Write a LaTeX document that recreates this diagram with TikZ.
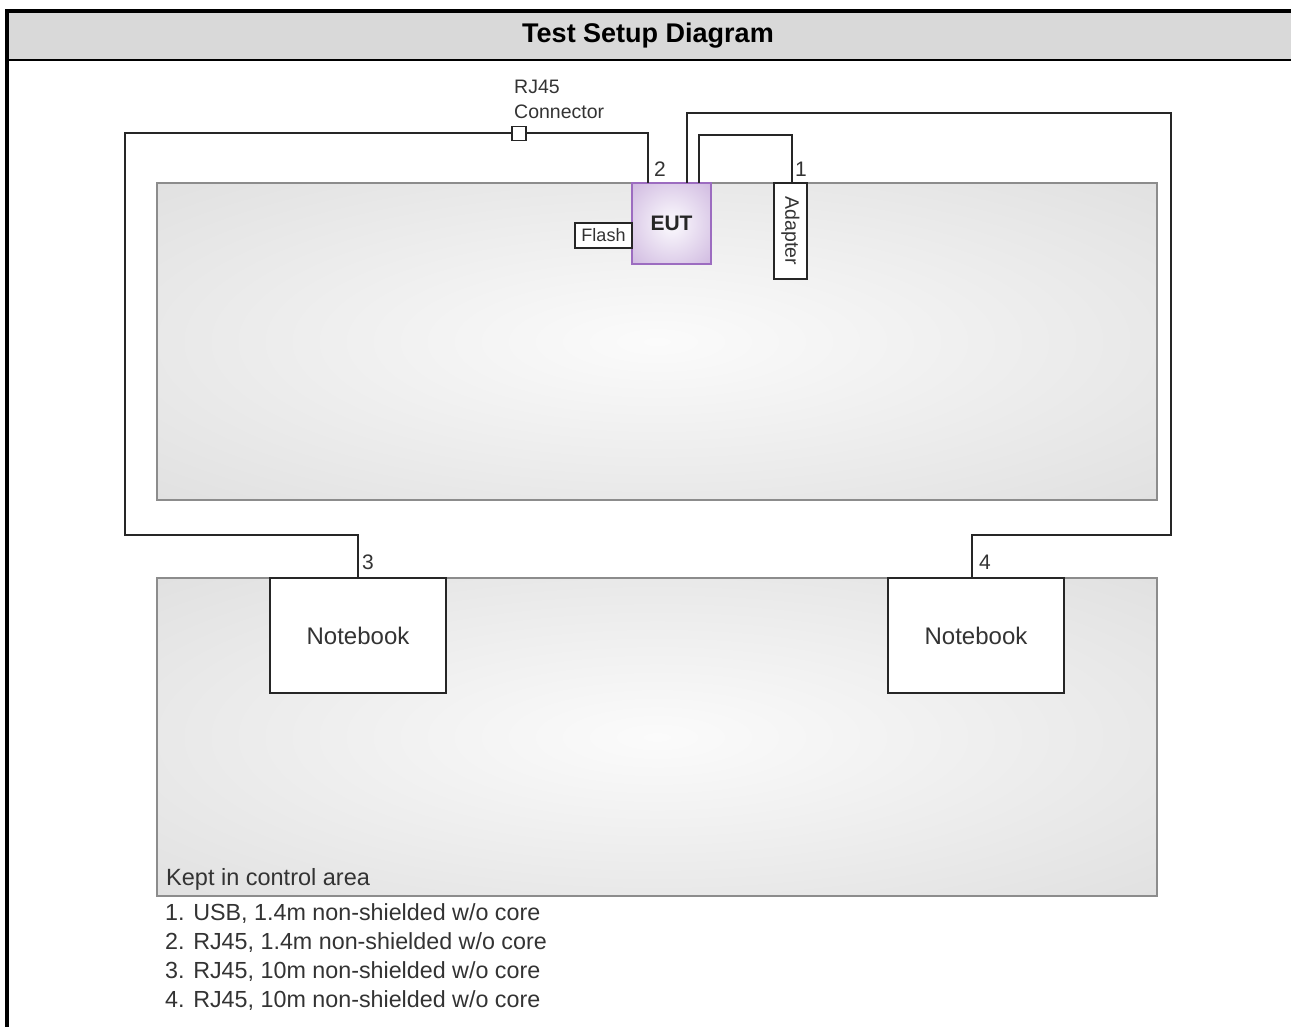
\documentclass[tikz,border=0pt]{standalone}
\usepackage{fontspec}
\setmainfont{Liberation Sans}
\definecolor{hdrgray}{HTML}{D9D9D9}
\definecolor{tblborder}{HTML}{8C8C8C}
\definecolor{tblin}{HTML}{FBFBFB}
\definecolor{tblmid}{HTML}{D6D6D6}
\definecolor{tblout}{HTML}{CACACA}
\definecolor{eutin}{HTML}{F6F2FA}
\definecolor{eutmid}{HTML}{BE9FD4}
\definecolor{eutout}{HTML}{AE8AC6}
\definecolor{eutborder}{HTML}{9C6CC0}
\definecolor{txt}{HTML}{333333}
\pgfdeclareradialshading{tblshade}{\pgfpoint{0bp}{0bp}}{color(0bp)=(tblin); color(50bp)=(tblmid); color(71bp)=(tblout)}
\pgfdeclareradialshading{eutshade}{\pgfpoint{0bp}{0bp}}{color(0bp)=(eutin); color(5bp)=(eutin); color(50bp)=(eutmid); color(71bp)=(eutout)}
\tikzset{
  tbl/.style={draw=tblborder, line width=2pt, shading=tblshade, minimum width=1000pt, minimum height=317pt, inner sep=0pt, outer sep=0pt},
  whitebox/.style={draw=black!85, line width=1.6pt, fill=white, inner sep=0pt, outer sep=0pt, text=txt},
  cable/.style={draw=black!85, line width=2pt},
  lbl/.style={text=txt, inner sep=0pt, font=\fontsize{21}{25}\selectfont},
  legend/.style={text=txt, inner sep=0pt, anchor=west, font=\fontsize{23.3}{27}\selectfont},
}
\begin{document}
\begin{tikzpicture}[x=1pt,y=-1pt]
\useasboundingbox (0,0) rectangle (1291,1027);
% header
\fill[hdrgray] (9,13) rectangle (1291,59);
\draw[line width=4pt, line join=miter] (7,1027) -- (7,11) -- (1291,11);
\draw[line width=2pt] (9,60) -- (1291,60);
\node[font=\bfseries\fontsize{27}{32}\selectfont, inner sep=0pt] (title) at (648,36) {Test Setup Diagram};
% tables
\node[tbl] (t1) at (657,341.5) {};
\node[tbl, minimum height=318pt] (t2) at (657,737) {};
\node[legend, font=\fontsize{23.5}{27}\selectfont] (kept) at (166,879) {Kept in control area};
% devices
\node[whitebox, minimum width=176pt, minimum height=115pt, font=\fontsize{24}{28}\selectfont] (nb1) at (358,635.5) {Notebook};
\node[whitebox, minimum width=176pt, minimum height=115pt, font=\fontsize{24}{28}\selectfont] (nb2) at (976,635.5) {Notebook};
\node[draw=eutborder, line width=1.6pt, shading=eutshade, minimum width=79pt, minimum height=81pt, inner sep=0pt, outer sep=0pt, text=black!85, font=\bfseries\fontsize{21}{25}\selectfont] (eut) at (671.5,223.5) {EUT};
\node[whitebox, minimum width=57pt, minimum height=25pt, font=\fontsize{18}{22}\selectfont] (flash) at (603.5,235.5) {Flash};
\node[whitebox, minimum width=33pt, minimum height=96pt] (adp) at (790.5,231) {};
\node[text=txt, rotate=-90, inner sep=0pt, font=\fontsize{19.5}{23}\selectfont] (adptxt) at (adp.center) {Adapter};
\node[whitebox, minimum size=14pt, line width=1.5pt] (rj) at (519,133.5) {};
\node[lbl, anchor=west, font=\fontsize{19.5}{23}\selectfont] (rjl1) at (514,87) {RJ45};
\node[lbl, anchor=west, font=\fontsize{19.5}{23}\selectfont] (rjl2) at (514,112) {Connector};
% cables
\coordinate (bendL) at (125,535);
\coordinate (bendR) at (1171,535);
\draw[cable] ([xshift=16pt]eut.north west) |- (rj.east);
\draw[cable] (rj.west) -| (bendL) -| (nb1.north);
\draw[cable] ([xshift=55pt]eut.north west) -- ++(0,-70) -| (bendR) -| ([xshift=-4pt]nb2.north);
\draw[cable] ([xshift=67pt]eut.north west) -- ++(0,-48) -| ([xshift=1.5pt]adp.north);
% cable numbers
\node[lbl] (n2) at (660,169) {2};
\node[lbl] (n1) at (801,169) {1};
\node[lbl] (n3) at (368,562) {3};
\node[lbl] (n4) at (985,562) {4};
% legend
\node[legend] (l1) at (165,914) {1. USB, 1.4m non-shielded w/o core};
\node[legend] (l2) at (165,943) {2. RJ45, 1.4m non-shielded w/o core};
\node[legend] (l3) at (165,972) {3. RJ45, 10m non-shielded w/o core};
\node[legend] (l4) at (165,1001) {4. RJ45, 10m non-shielded w/o core};
\end{tikzpicture}
\end{document}
